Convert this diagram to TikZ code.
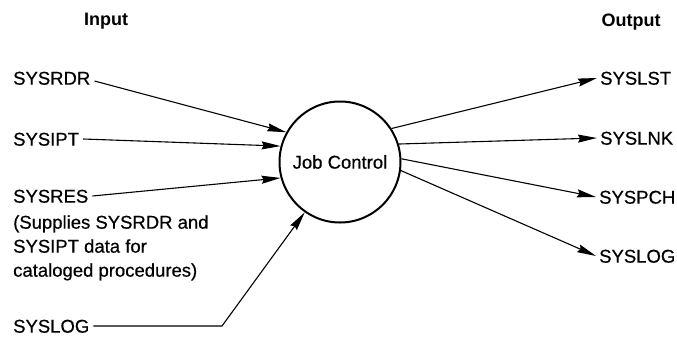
\documentclass[tikz,border=0pt]{standalone}
\usepackage{fontspec}
\setmainfont{Liberation Sans}
% a slightly heavier face for the file names
\newfontfamily\medfont{Liberation Sans}[BoldFont={Liberation Sans},BoldFeatures={FakeBold=0.5}]
\usetikzlibrary{arrows.meta}
\begin{document}
\begin{tikzpicture}[x=1pt,y=-1pt,
  lbl/.style={inner sep=0pt, font=\fontsize{18.5}{22}\selectfont\medfont\bfseries, text height=13.3pt, text depth=0pt},
  hdr/.style={inner sep=0pt, font=\fontsize{18}{22}\selectfont\bfseries, text height=13pt, text depth=0pt},
  link/.style={line width=1.1pt, -{Stealth[length=19pt,width=8pt,inset=2pt]}},
  proc/.style={circle, draw, line width=2pt, minimum size=121pt, inner sep=0pt,
    font=\fontsize{18.5}{22}\selectfont\medfont\bfseries}]
\useasboundingbox (0,0) rectangle (677,338);
% column headings
\node[hdr] (in) at (106,19) {Input};
\node[hdr] (out) at (631,20) {Output};
% the job control program
\node[proc] (jc) at (340,162) {Job Control};
% input files
\node[lbl, anchor=west] (rdr) at (13,78) {SYSRDR};
\node[lbl, anchor=west] (ipt) at (13,139) {SYSIPT};
\node[lbl, anchor=west] (res) at (13,196) {SYSRES};
\node[lbl, anchor=west] (n1) at (13,222) {(Supplies SYSRDR and};
\node[lbl, anchor=west] (n2) at (13,246) {SYSIPT data for};
\node[lbl, anchor=west] (n3) at (13,270) {cataloged procedures)};
\node[lbl, anchor=west] (logi) at (13,326) {SYSLOG};
\coordinate (bend) at (222,326);
% output files
\node[lbl, anchor=west] (lst) at (600,78) {SYSLST};
\node[lbl, anchor=west] (lnk) at (600,138) {SYSLNK};
\node[lbl, anchor=west] (pch) at (599,197) {SYSPCH};
\node[lbl, anchor=west] (logo) at (599,256) {SYSLOG};
% input connectors
\draw[link] ([xshift=4pt,yshift=-3pt]rdr.east) -- (jc.151);
\draw[link] ([xshift=4pt]ipt.east) -- (jc.165);
\draw[link] ([xshift=4pt]res.east) -- (jc.195);
\draw[link] ([xshift=4pt]logi.east) -- (bend) -- (jc.235);
% output connectors
\draw[link] (jc.33) -- ([xshift=-3pt]lst.west);
\draw[link] (jc.17) -- ([xshift=-3pt]lnk.west);
\draw[link] (jc.3) -- ([xshift=-3pt]pch.west);
\draw[link] (jc.-8) -- ([xshift=-3pt]logo.west);
\end{tikzpicture}
\end{document}
